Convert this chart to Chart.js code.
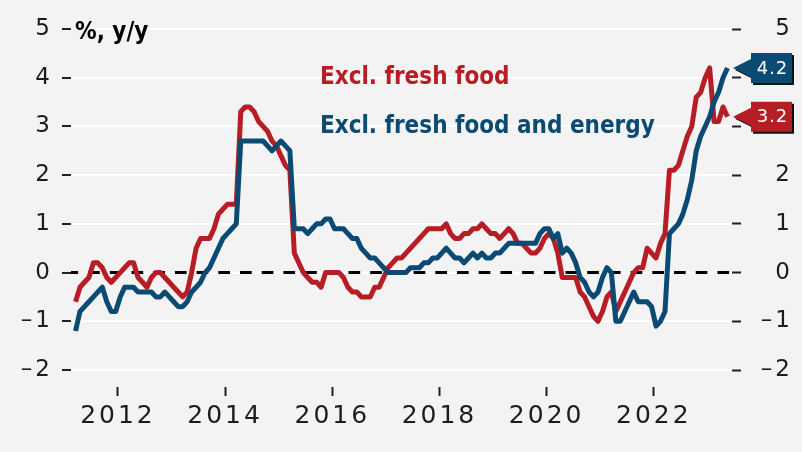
<!DOCTYPE html>
<html>
<head>
<meta charset="utf-8">
<title>Japan CPI</title>
<script src="https://cdn.jsdelivr.net/npm/chart.js@4.4.0/dist/chart.umd.min.js"></script>
<style>
  html, body { margin: 0; padding: 0; background: #f3f3f3; }
  canvas { display: block; }
</style>
</head>
<body>
<canvas id="cpiChart" width="802" height="452"></canvas>
<script>
// monthly y/y change, first point Mar 2011, last point May 2023
const firstYear = 2011;
const firstMonth = 3;

const exclFreshFood = [
  -0.6, -0.3, -0.2, -0.1, 0.2, 0.2, 0.1, -0.1, -0.2, -0.1,          // 2011
  0.0, 0.1, 0.2, 0.2, -0.1, -0.2, -0.3, -0.1, 0.0, 0.0, -0.1, -0.2, // 2012
  -0.3, -0.4, -0.5, -0.4, 0.0, 0.5, 0.7, 0.7, 0.7, 0.9, 1.2, 1.3,   // 2013
  1.4, 1.4, 1.4, 3.3, 3.4, 3.4, 3.3, 3.1, 3.0, 2.9, 2.7, 2.6,       // 2014
  2.4, 2.2, 2.1, 0.4, 0.2, 0.0, -0.1, -0.2, -0.2, -0.3, 0.0, 0.0,   // 2015
  0.0, 0.0, -0.1, -0.3, -0.4, -0.4, -0.5, -0.5, -0.5, -0.3, -0.3, -0.1, // 2016
  0.1, 0.2, 0.3, 0.3, 0.4, 0.5, 0.6, 0.7, 0.8, 0.9, 0.9, 0.9,       // 2017
  0.9, 1.0, 0.8, 0.7, 0.7, 0.8, 0.8, 0.9, 0.9, 1.0, 0.9, 0.8,       // 2018
  0.8, 0.7, 0.8, 0.9, 0.8, 0.6, 0.6, 0.5, 0.4, 0.4, 0.5, 0.7,       // 2019
  0.8, 0.7, 0.4, -0.1, -0.1, -0.1, -0.1, -0.4, -0.5, -0.7, -0.9, -1.0, // 2020
  -0.8, -0.5, -0.4, -0.8, -0.6, -0.4, -0.2, 0.0, 0.1, 0.1, 0.5, 0.4, // 2021
  0.3, 0.6, 0.8, 2.1, 2.1, 2.2, 2.5, 2.8, 3.0, 3.6, 3.7, 4.0,       // 2022
  4.2, 3.1, 3.1, 3.4, 3.2                                           // 2023
];

const exclFreshFoodEnergy = [
  -1.2, -0.8, -0.7, -0.6, -0.5, -0.4, -0.3, -0.6, -0.8, -0.8,       // 2011
  -0.5, -0.3, -0.3, -0.3, -0.4, -0.4, -0.4, -0.4, -0.5, -0.5, -0.4, -0.5, // 2012
  -0.6, -0.7, -0.7, -0.6, -0.4, -0.3, -0.2, 0.0, 0.1, 0.3, 0.5, 0.7, // 2013
  0.8, 0.9, 1.0, 2.7, 2.7, 2.7, 2.7, 2.7, 2.7, 2.6, 2.5, 2.6,       // 2014
  2.7, 2.6, 2.5, 0.9, 0.9, 0.9, 0.8, 0.9, 1.0, 1.0, 1.1, 1.1,       // 2015
  0.9, 0.9, 0.9, 0.8, 0.7, 0.7, 0.5, 0.4, 0.3, 0.3, 0.2, 0.1,       // 2016
  0.0, 0.0, 0.0, 0.0, 0.0, 0.1, 0.1, 0.1, 0.2, 0.2, 0.3, 0.3,       // 2017
  0.4, 0.5, 0.4, 0.3, 0.3, 0.2, 0.3, 0.4, 0.3, 0.4, 0.3, 0.3,       // 2018
  0.4, 0.4, 0.5, 0.6, 0.6, 0.6, 0.6, 0.6, 0.6, 0.6, 0.8, 0.9,       // 2019
  0.9, 0.7, 0.8, 0.4, 0.5, 0.4, 0.2, -0.1, -0.2, -0.4, -0.5, -0.4,  // 2020
  -0.1, 0.1, 0.0, -1.0, -1.0, -0.8, -0.6, -0.4, -0.6, -0.6, -0.6, -0.7, // 2021
  -1.1, -1.0, -0.8, 0.8, 0.9, 1.0, 1.2, 1.5, 1.9, 2.5, 2.8, 3.0,    // 2022
  3.2, 3.5, 3.7, 4.0, 4.2                                           // 2023
];

const yearTicks = [2012, 2014, 2016, 2018, 2020, 2022];
const valueTicks = [-2, -1, 0, 1, 2, 3, 4, 5];
const seriesNames = ['Excl. fresh food', 'Excl. fresh food and energy'];
const seriesColors = ['#b71d25', '#0b4a73'];
const unitLabel = '%, y/y';

// each month sits in the middle of its month on a year axis
function monthPoints(values) {
  return values.map(function (v, i) {
    return { x: firstYear + (firstMonth - 1 + i + 0.5) / 12, y: v };
  });
}

const yFont = { family: 'DejaVu Sans', size: 23 };
const xFont = { family: 'DejaVu Sans', size: 25 };
const inkColor = '#1c1c1c';
const noteFont = 'bold 24px "DejaVu Sans Condensed", "DejaVu Sans"';

function fmtValue(v) {
  return v < 0 ? '\u2013' + Math.abs(v) : String(v);
}

const spacingPlugin = {
  id: 'spacing',
  beforeDraw: function (chart) {
    chart.ctx.letterSpacing = '3px';
  }
};

const zeroLinePlugin = {
  id: 'zeroLine',
  beforeDatasetsDraw: function (chart) {
    const ctx = chart.ctx;
    const area = chart.chartArea;
    const y0 = chart.scales.y.getPixelForValue(0);
    ctx.save();
    ctx.strokeStyle = '#000';
    ctx.lineWidth = 3;
    ctx.setLineDash([11.7, 10]);
    ctx.lineDashOffset = 4.6;
    ctx.beginPath();
    ctx.moveTo(area.left, y0);
    ctx.lineTo(area.right, y0);
    ctx.stroke();
    ctx.restore();
  }
};

function drawTag(ctx, area, y, text, color) {
  const left = area.right + 19;
  const w = 41;
  const h = 30;
  const tip = area.right + 1;
  const top = y - h / 2;
  function shape(d) {
    ctx.beginPath();
    ctx.moveTo(tip + d, y + d);
    ctx.lineTo(left + d, y - 9 + d);
    ctx.lineTo(left + d, top + d);
    ctx.lineTo(left + w + d, top + d);
    ctx.lineTo(left + w + d, top + h + d);
    ctx.lineTo(left + d, top + h + d);
    ctx.lineTo(left + d, y + 9 + d);
    ctx.closePath();
  }
  ctx.fillStyle = '#111';
  shape(2);
  ctx.fill();
  ctx.fillStyle = color;
  shape(0);
  ctx.fill();
  ctx.fillStyle = '#fff';
  ctx.font = '18px "DejaVu Sans"';
  ctx.letterSpacing = '1px';
  ctx.textAlign = 'center';
  ctx.textBaseline = 'middle';
  ctx.fillText(text, left + w / 2 + 1, y + 1);
}

const notesPlugin = {
  id: 'notes',
  afterDraw: function (chart) {
    const ctx = chart.ctx;
    const area = chart.chartArea;
    ctx.save();
    ctx.letterSpacing = '0px';
    ctx.textAlign = 'left';
    ctx.textBaseline = 'alphabetic';
    ctx.font = noteFont;
    ctx.fillStyle = '#000';
    ctx.fillText(unitLabel, area.left + 4, area.top + 9.5);

    ctx.fillStyle = seriesColors[0];
    ctx.fillText(seriesNames[0], 320, 84);
    ctx.fillStyle = seriesColors[1];
    ctx.fillText(seriesNames[1], 320, 133);

    const ys = chart.scales.y;
    const lastRed = exclFreshFood[exclFreshFood.length - 1];
    const lastBlue = exclFreshFoodEnergy[exclFreshFoodEnergy.length - 1];
    drawTag(ctx, area, ys.getPixelForValue(lastBlue), lastBlue.toFixed(1), seriesColors[1]);
    drawTag(ctx, area, ys.getPixelForValue(lastRed), lastRed.toFixed(1), seriesColors[0]);
    ctx.restore();
  }
};

const ctx = document.getElementById('cpiChart').getContext('2d');
const cpiChart = new Chart(ctx, {
  type: 'line',
  data: {
    datasets: [{
      label: seriesNames[1],
      data: monthPoints(exclFreshFoodEnergy),
      borderColor: seriesColors[1],
      borderWidth: 5,
      pointRadius: 0,
      borderJoinStyle: 'round',
      tension: 0
    }, {
      label: seriesNames[0],
      data: monthPoints(exclFreshFood),
      borderColor: seriesColors[0],
      borderWidth: 5,
      pointRadius: 0,
      borderJoinStyle: 'round',
      tension: 0
    }]
  },
  options: {
    responsive: false,
    animation: false,
    devicePixelRatio: 1,
    layout: { padding: { top: 29, right: 9, left: 0, bottom: 0 } },
    plugins: {
      legend: { display: false },
      tooltip: { enabled: false }
    },
    scales: {
      x: {
        type: 'linear',
        min: 2011.124,
        max: 2023.459,
        afterBuildTicks: function (s) { s.ticks = yearTicks.map(function (v) { return { value: v }; }); },
        afterFit: function (s) { s.height = 82; },
        border: { display: false },
        grid: {
          drawOnChartArea: false,
          tickLength: 26,
          tickWidth: 2,
          tickColor: '#222',
          tickBorderDash: [0, 17, 9, 100]
        },
        ticks: {
          font: xFont,
          color: inkColor,
          padding: 5,
          maxRotation: 0,
          autoSkip: false,
          callback: function (v) { return String(v); }
        }
      },
      y: {
        position: 'left',
        min: -2,
        max: 5,
        afterBuildTicks: function (s) { s.ticks = valueTicks.map(function (v) { return { value: v }; }); },
        afterFit: function (s) { s.width = 71; },
        border: { display: false },
        grid: { color: '#ffffff', lineWidth: 2, tickLength: 9, tickWidth: 2, tickColor: '#222' },
        ticks: { font: yFont, color: inkColor, padding: 9, callback: fmtValue }
      },
      y2: {
        position: 'right',
        min: -2,
        max: 5,
        afterBuildTicks: function (s) { s.ticks = valueTicks.map(function (v) { return { value: v }; }); },
        afterFit: function (s) { s.width = 61; },
        border: { display: false },
        grid: { drawOnChartArea: false, tickLength: 9, tickWidth: 2, tickColor: '#222' },
        ticks: { font: yFont, color: inkColor, padding: 7, crossAlign: 'far', callback: fmtValue }
      }
    }
  },
  plugins: [spacingPlugin, zeroLinePlugin, notesPlugin]
});
</script>
</body>
</html>
